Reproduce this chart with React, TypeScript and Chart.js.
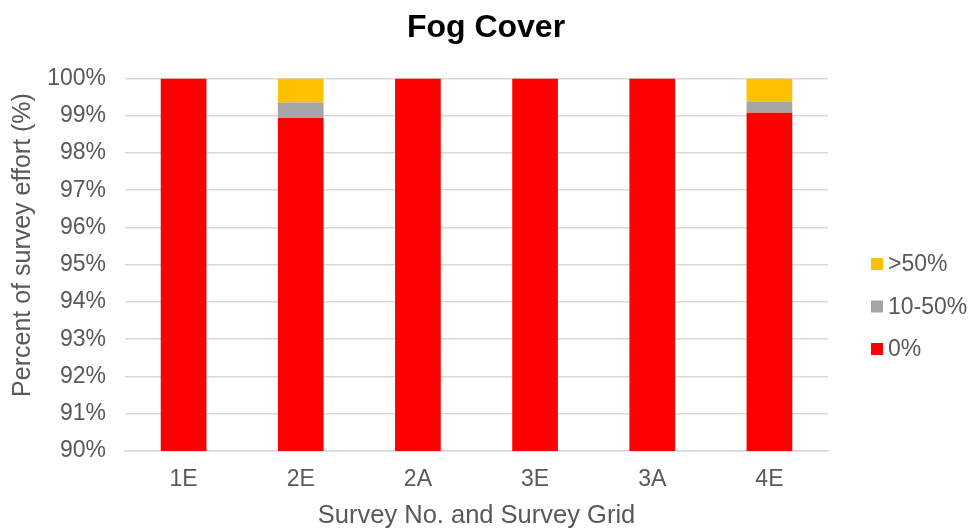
import React, { useEffect, useRef } from "react";
import { Chart, registerables } from "chart.js";

Chart.register(...registerables);

const categories = ["1E", "2E", "2A", "3E", "3A", "4E"];
const zeroPct = [100, 98.94, 100, 100, 100, 99.08];
const midPct = [0, 0.41, 0, 0, 0, 0.3];
const highPct = [0, 0.65, 0, 0, 0, 0.62];
const yTicks = [90, 91, 92, 93, 94, 95, 96, 97, 98, 99, 100];

const TITLE = "Fog Cover";
const X_TITLE = "Survey No. and Survey Grid";
const Y_TITLE = "Percent of survey effort (%)";

const FONT = "'Liberation Sans', Arial, sans-serif";
const TEXT = "#595959";

// Layout constants
const Y_AXIS_WIDTH = 125;
const X_AXIS_HEIGHT = 80;
const RIGHT_SPACE = 144;
const Y_TITLE_X = 23;
const Y_TITLE_Y = 245;

// Legend layout (drawn on the right, reversed order like the reference)
const LEGEND_BOX_X = 871;
const LEGEND_TEXT_X = 888;
const LEGEND_FIRST_Y = 264;
const LEGEND_GAP = 42.5;
const LEGEND_BOX = 12;

const sideLegend = {
  id: "sideLegend",
  afterDraw(chart: any) {
    const ctx = chart.ctx as CanvasRenderingContext2D;
    const items = chart.data.datasets.slice().reverse();
    ctx.save();
    ctx.font = `23px ${FONT}`;
    ctx.textBaseline = "middle";
    ctx.textAlign = "left";
    items.forEach((d: any, i: number) => {
      const cy = LEGEND_FIRST_Y + i * LEGEND_GAP;
      ctx.fillStyle = d.backgroundColor;
      ctx.fillRect(LEGEND_BOX_X, cy - LEGEND_BOX / 2, LEGEND_BOX, LEGEND_BOX);
      ctx.fillStyle = TEXT;
      ctx.fillText(d.label, LEGEND_TEXT_X, cy + 1);
    });
    // y-axis title
    ctx.translate(Y_TITLE_X, Y_TITLE_Y);
    ctx.rotate(-Math.PI / 2);
    ctx.font = `25px ${FONT}`;
    ctx.textAlign = "center";
    ctx.textBaseline = "middle";
    ctx.fillStyle = TEXT;
    ctx.fillText(Y_TITLE, 0, 0);
    ctx.restore();
  },
};

export default function App() {
  const ref = useRef<HTMLCanvasElement | null>(null);

  useEffect(() => {
    if (!ref.current) return;
    const chart = new Chart(ref.current, {
      type: "bar",
      data: {
        labels: categories,
        datasets: [
          { label: "0%", data: zeroPct, backgroundColor: "#FF0000" },
          { label: "10-50%", data: midPct, backgroundColor: "#A5A5A5" },
          { label: ">50%", data: highPct, backgroundColor: "#FFC000" },
        ],
      },
      plugins: [sideLegend],
      options: {
        animation: false,
        responsive: true,
        maintainAspectRatio: false,
        datasets: { bar: { categoryPercentage: 1, barPercentage: 0.39 } },
        layout: { padding: 0 },
        plugins: {
          title: {
            display: true,
            text: TITLE,
            color: "#000000",
            font: { family: FONT, size: 32, weight: "bold" },
            padding: { top: 9, bottom: 31 },
          },
          legend: { display: false },
          tooltip: { enabled: false },
        },
        scales: {
          x: {
            stacked: true,
            afterFit: (s: any) => {
              s.height = X_AXIS_HEIGHT;
              s.paddingRight = RIGHT_SPACE;
            },
            grid: { display: false, drawTicks: false },
            border: { display: true, color: "#d9d9d9", width: 1.5 },
            ticks: { color: TEXT, font: { family: FONT, size: 23 }, padding: 15 },
            title: {
              display: true,
              text: X_TITLE,
              color: TEXT,
              font: { family: FONT, size: 25.5 },
              padding: { top: 7, bottom: 0 },
            },
          },
          y: {
            stacked: true,
            min: 90,
            max: 100,
            afterFit: (s: any) => {
              s.width = Y_AXIS_WIDTH;
            },
            afterBuildTicks: (axis: any) => {
              axis.ticks = yTicks.map((v) => ({ value: v }));
            },
            grid: { color: "#d9d9d9", lineWidth: 1.5, drawTicks: false },
            border: { display: false },
            ticks: {
              color: TEXT,
              font: { family: FONT, size: 23 },
              padding: 19,
              callback: (v: any) => `${v}%`,
            },
            title: { display: false },
          },
        },
      },
    });
    return () => chart.destroy();
  }, []);

  return (
    <div style={{ position: "fixed", left: 0, top: 0, width: 972, height: 531, background: "#fff" }}>
      <canvas ref={ref} />
    </div>
  );
}
